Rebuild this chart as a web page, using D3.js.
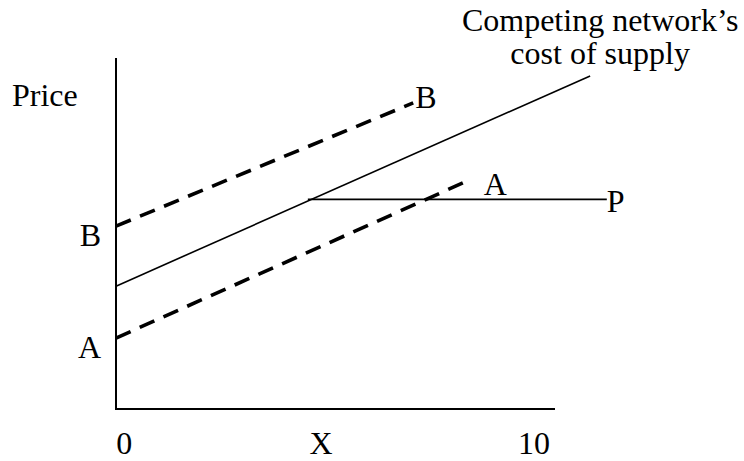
<!DOCTYPE html>
<html>
<head>
<meta charset="utf-8">
<script src="https://cdn.jsdelivr.net/npm/d3@7"></script>
<style>
  html, body { margin: 0; padding: 0; background: #fff; }
  svg { display: block; }
  text { font-family: "Liberation Serif", "Times New Roman", serif; fill: #000; }
</style>
</head>
<body>
<svg id="chart" width="744" height="461"></svg>
<script>
// ---- data (schematic units, axes run 0..10) ----
const costLine = [[0, 3.5], [10.8, 9.49]];      // Competing network's cost of supply
const dashedB  = [[0, 5.21], [6.77, 8.72]];     // B
const dashedA  = [[0, 2.02], [7.9, 6.44]];      // A
const priceP   = [[4.37, 5.97], [11.18, 5.97]]; // P (flat price beyond X)
const xTicks   = [{label: "0", value: 0.19}, {label: "X", value: 4.67}, {label: "10", value: 9.52}];
const yLabels  = [{label: "B", value: 5.21}, {label: "A", value: 2.02}];
const titleLines = ["Competing network\u2019s", "cost of supply"];
const yTitle = "Price";

const svg = d3.select("#chart");
const x = d3.scaleLinear().domain([0, 10]).range([116, 555]);
const y = d3.scaleLinear().domain([0, 10]).range([409, 58]);
const line = d3.line().x(d => x(d[0])).y(d => y(d[1]));
const FS = 32;

// axes
svg.append("path")
  .attr("d", `M${x(0)},${y(10)}V${y(0)}H${x(10)}`)
  .attr("fill", "none").attr("stroke", "#000").attr("stroke-width", 2);

// lines
svg.append("path").datum(costLine).attr("d", line)
  .attr("fill", "none").attr("stroke", "#000").attr("stroke-width", 1.6);
svg.append("path").datum(priceP).attr("d", line)
  .attr("fill", "none").attr("stroke", "#000").attr("stroke-width", 1.8);
[dashedB, dashedA].forEach(d => {
  svg.append("path").datum(d).attr("d", line)
    .attr("fill", "none").attr("stroke", "#000").attr("stroke-width", 3.6)
    .attr("stroke-dasharray", "16,10");
});

// x tick labels
svg.selectAll("text.xt").data(xTicks).join("text")
  .attr("class", "xt")
  .attr("x", d => x(d.value)).attr("y", 454)
  .attr("text-anchor", "middle").attr("font-size", FS)
  .text(d => d.label);

// y labels
svg.selectAll("text.yl").data(yLabels).join("text")
  .attr("class", "yl")
  .attr("x", x(0) - 15).attr("y", d => y(d.value) + 20)
  .attr("text-anchor", "end").attr("font-size", FS)
  .text(d => d.label);

svg.append("text").attr("x", 12).attr("y", 106).attr("font-size", FS).text(yTitle);

// line-end labels
const endB = dashedB[1], endA = dashedA[1], endP = priceP[1], endC = costLine[1];
svg.append("text").attr("x", x(endB[0]) + 2).attr("y", y(endB[1]) + 5).attr("font-size", FS).text("B");
svg.append("text").attr("x", x(endA[0]) + 21).attr("y", y(endA[1]) + 12).attr("font-size", FS).text("A");
svg.append("text").attr("x", x(endP[0])).attr("y", y(endP[1]) + 13).attr("font-size", FS).text("P");

svg.selectAll("text.title").data(titleLines).join("text")
  .attr("class", "title")
  .attr("x", x(endC[0]) + 10)
  .attr("y", (d, i) => y(endC[1]) - 45 + i * 33)
  .attr("text-anchor", "middle").attr("font-size", FS)
  .text(d => d);
</script>
</body>
</html>
